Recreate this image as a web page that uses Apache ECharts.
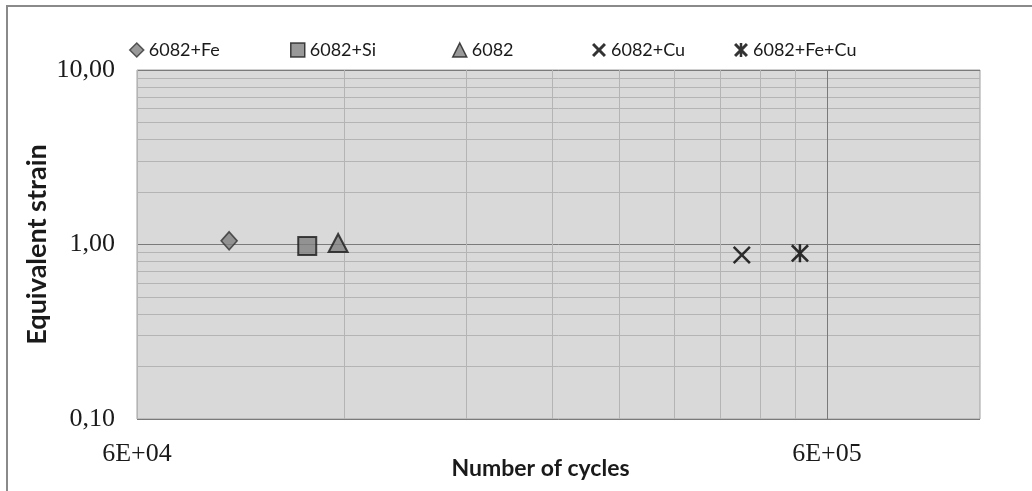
<!DOCTYPE html>
<html>
<head>
<meta charset="utf-8">
<script src="https://cdn.jsdelivr.net/npm/echarts@6/dist/echarts.min.js"></script>
<style>
html,body{margin:0;padding:0;background:#fff;}
#chart{width:1032px;height:491px;}
</style>
</head>
<body>
<div id="chart"></div>
<script>
// ---- data ----
const seriesNames = ['6082+Fe', '6082+Si', '6082', '6082+Cu', '6082+Fe+Cu'];
const cycles = [81600, 105900, 117400, 451600, 548300];
const strain = [1.05, 0.98, 1.02, 0.87, 0.89];

const xLabelValues = [60000, 600000];
const xLabelTexts = ['6E+04', '6E+05'];
const xGridValues = [60000, 120000, 180000, 240000, 300000, 360000, 420000, 480000, 540000, 600000];
const yLabelValues = [0.1, 1, 10];
const yLabelTexts = ['0,10', '1,00', '10,00'];
const yGridValues = [0.1, 0.2, 0.3, 0.4, 0.5, 0.6, 0.7, 0.8, 0.9, 1, 2, 3, 4, 5, 6, 7, 8, 9, 10];

// ---- styles ----
const crossPath = 'path://M2,0 L10,8 L18,0 L20,2 L12,10 L20,18 L18,20 L10,12 L2,20 L0,18 L8,10 L0,2 Z';
const starPath = 'path://M2,0 L10,8 L18,0 L20,2 L12,10 L20,18 L18,20 L10,12 L2,20 L0,18 L8,10 L0,2 Z M8.6,0 L11.4,0 L11.4,20 L8.6,20 Z';
const crossPathBold = 'path://M3,0 L10,7 L17,0 L20,3 L13,10 L20,17 L17,20 L10,13 L3,20 L0,17 L7,10 L0,3 Z';
const starPathBold = 'path://M3,0 L10,7 L17,0 L20,3 L13,10 L20,17 L17,20 L10,13 L3,20 L0,17 L7,10 L0,3 Z M8.2,0 L11.8,0 L11.8,20 L8.2,20 Z';
const symbols = ['diamond', 'rect', 'triangle', crossPath, starPath];
const legendIcons = ['diamond', 'rect', 'triangle', crossPathBold, starPathBold];
const symbolSizes = [[16, 18], 18, [19, 18], 18, [18, 18]];
const itemStyles = [
  {color: '#808080', borderColor: '#333333', borderWidth: 1.6},
  {color: '#808080', borderColor: '#1a1a1a', borderWidth: 2},
  {color: '#808080', borderColor: '#1a1a1a', borderWidth: 2},
  {color: '#000000'},
  {color: '#000000'}
];
const legendLefts = [124, 285, 447, 587, 729];

const xColors = xGridValues.map((v, i) => i === xGridValues.length - 1 ? '#7a7a7a' : '#b4b4b4');
const yColors = yGridValues.map(v => (v === 1 || v === 10 || v === 0.1) ? '#7a7a7a' : '#b4b4b4');

const chart = echarts.init(document.getElementById('chart'));
chart.setOption({
  animation: false,
  backgroundColor: '#ffffff',
  graphic: [{
    type: 'rect',
    shape: {x: 7, y: 6, width: 1040, height: 500},
    style: {fill: 'none', stroke: '#8a8a8a', lineWidth: 2},
    z: -1
  }],
  legend: seriesNames.map((name, i) => ({
    data: [{name: name, icon: legendIcons[i]}],
    left: legendLefts[i],
    top: 36,
    itemWidth: 14,
    itemHeight: 14,
    itemStyle: {borderWidth: 1.5},
    textStyle: {fontFamily: 'Lato', fontSize: 18, color: '#1a1a1a'}
  })),
  grid: {
    left: 137, right: 52, top: 70, bottom: 72,
    containLabel: false,
    outerBoundsMode: 'none',
    show: true,
    backgroundColor: '#d9d9d9',
    borderColor: '#a0a0a0',
    borderWidth: 1
  },
  xAxis: {
    type: 'log',
    logBase: 10,
    min: 60000,
    max: 1000000,
    name: 'Number of cycles',
    nameLocation: 'middle',
    nameGap: 38,
    nameMoveOverlap: false,
    nameTextStyle: {fontFamily: 'Lato', fontWeight: 'bold', fontSize: 23, color: '#1a1a1a', padding: [0, 36, 0, 0]},
    axisLine: {show: false},
    axisTick: {show: false, customValues: xGridValues},
    axisLabel: {
      customValues: xLabelValues,
      margin: 22,
      fontFamily: 'Liberation Serif',
      fontSize: 26,
      color: '#1a1a1a',
      formatter: function (v) {
        let best = 0;
        xLabelValues.forEach((x, i) => { if (Math.abs(x - v) < Math.abs(xLabelValues[best] - v)) best = i; });
        return xLabelTexts[best];
      }
    },
    splitLine: {show: true, lineStyle: {color: xColors, width: 1}}
  },
  yAxis: {
    type: 'log',
    logBase: 10,
    min: 0.1,
    max: 10,
    name: 'Equivalent strain',
    nameLocation: 'middle',
    nameGap: 86,
    nameRotate: 90,
    nameMoveOverlap: false,
    nameTextStyle: {fontFamily: 'Lato', fontWeight: 'bold', fontSize: 27, color: '#1a1a1a'},
    axisLine: {show: false},
    axisTick: {show: false, customValues: yGridValues},
    axisLabel: {
      customValues: yLabelValues,
      margin: 22,
      fontFamily: 'Liberation Serif',
      fontSize: 26,
      color: '#1a1a1a',
      formatter: function (v) {
        let best = 0;
        yLabelValues.forEach((y, i) => { if (Math.abs(Math.log(y) - Math.log(v)) < Math.abs(Math.log(yLabelValues[best]) - Math.log(v))) best = i; });
        return yLabelTexts[best];
      }
    },
    splitLine: {show: true, lineStyle: {color: yColors, width: 1}}
  },
  series: seriesNames.map((name, i) => ({
    name: name,
    type: 'scatter',
    symbol: symbols[i],
    symbolSize: symbolSizes[i],
    itemStyle: itemStyles[i],
    data: [[cycles[i], strain[i]]],
    z: 5
  }))
});
</script>
</body>
</html>
